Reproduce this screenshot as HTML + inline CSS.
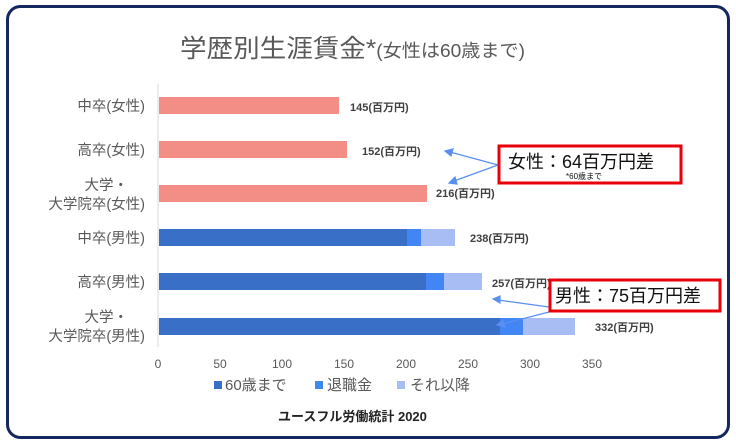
<!DOCTYPE html>
<html><head><meta charset="utf-8"><style>
body{margin:0;background:#fff;}
svg{display:block;font-family:"Liberation Sans","Noto Sans CJK JP",sans-serif;}
</style></head><body>
<svg width="736" height="446" viewBox="0 0 736 446">
<rect x="0" y="0" width="736" height="446" fill="#fff"/>
<rect x="7.5" y="6.5" width="721" height="431" rx="13" fill="#fff" stroke="#14275e" stroke-width="3"/>
<text x="180" y="57" font-size="25" fill="#595959" textLength="345" lengthAdjust="spacingAndGlyphs">学歴別生涯賃金*<tspan font-size="18">(女性は60歳まで)</tspan></text>
<line x1="158" y1="84" x2="158" y2="347" stroke="#d9d9d9" stroke-width="1"/>
<g font-size="14.5" fill="#595959" text-anchor="end">
<text x="145" y="111">中卒(女性)</text>
<text x="145" y="155">高卒(女性)</text>
<text x="128" y="190">大学・</text>
<text x="145" y="209">大学院卒(女性)</text>
<text x="145" y="243">中卒(男性)</text>
<text x="145" y="287">高卒(男性)</text>
<text x="128" y="322">大学・</text>
<text x="145" y="341">大学院卒(男性)</text>
</g>
<g fill="#f28e86">
<rect x="159" y="97" width="180" height="17"/>
<rect x="159" y="141" width="188" height="17"/>
<rect x="159" y="185" width="268" height="17"/>
</g>
<g>
<rect x="159" y="229" width="248" height="17" fill="#3a6fc8"/>
<rect x="407" y="229" width="14" height="17" fill="#4285f4"/>
<rect x="421" y="229" width="34" height="17" fill="#a9bdf5"/>
<rect x="159" y="273" width="267" height="17" fill="#3a6fc8"/>
<rect x="426" y="273" width="18" height="17" fill="#4285f4"/>
<rect x="444" y="273" width="38" height="17" fill="#a9bdf5"/>
<rect x="159" y="318" width="341" height="17" fill="#3a6fc8"/>
<rect x="500" y="318" width="23" height="17" fill="#4285f4"/>
<rect x="523" y="318" width="52" height="17" fill="#a9bdf5"/>
</g>
<g font-size="11" font-weight="bold" fill="#404040">
<text x="350" y="111">145(百万円)</text>
<text x="362" y="155">152(百万円)</text>
<text x="436" y="197">216(百万円)</text>
<text x="470" y="242">238(百万円)</text>
<text x="492" y="287">257(百万円)</text>
<text x="595" y="331">332(百万円)</text>
</g>
<g font-size="12" fill="#595959" text-anchor="middle">
<text x="158" y="368">0</text><text x="220" y="368">50</text><text x="282" y="368">100</text>
<text x="344" y="368">150</text><text x="406" y="368">200</text><text x="468" y="368">250</text>
<text x="530" y="368">300</text><text x="592" y="368">350</text>
</g>
<g font-size="15" fill="#595959">
<rect x="214" y="381" width="8" height="8" fill="#3a6fc8"/><text x="225" y="390">60歳まで</text>
<rect x="315" y="381" width="8" height="8" fill="#4285f4"/><text x="327" y="390">退職金</text>
<rect x="397" y="381" width="8" height="8" fill="#a9bdf5"/><text x="410" y="390">それ以降</text>
</g>
<text x="278" y="421" font-size="13" font-weight="bold" fill="#222">ユースフル労働統計 2020</text>
<g stroke="#5b8ff0" stroke-width="1.2" fill="#5b8ff0">
<line x1="498" y1="165" x2="450" y2="152"/><polygon points="445,151 453,149 451,156"/>
<line x1="498" y1="165" x2="454" y2="181"/><polygon points="449,183 455,177 457,184"/>
<line x1="549" y1="307" x2="498" y2="300"/><polygon points="493,299 500,296 500,303"/>
<line x1="549" y1="312" x2="502" y2="324"/><polygon points="497,325 503,320 505,327"/>
</g>
<rect x="499" y="146" width="182" height="37" fill="#fff" stroke="#e8000b" stroke-width="3"/>
<text x="508" y="168" font-size="18" fill="#111">女性：64百万円差</text>
<text x="566" y="179" font-size="8" fill="#111">*60歳まで</text>
<rect x="550" y="280" width="170" height="31" fill="#fff" stroke="#e8000b" stroke-width="3"/>
<text x="555" y="302" font-size="18" fill="#111">男性：75百万円差</text>
</svg>
</body></html>
